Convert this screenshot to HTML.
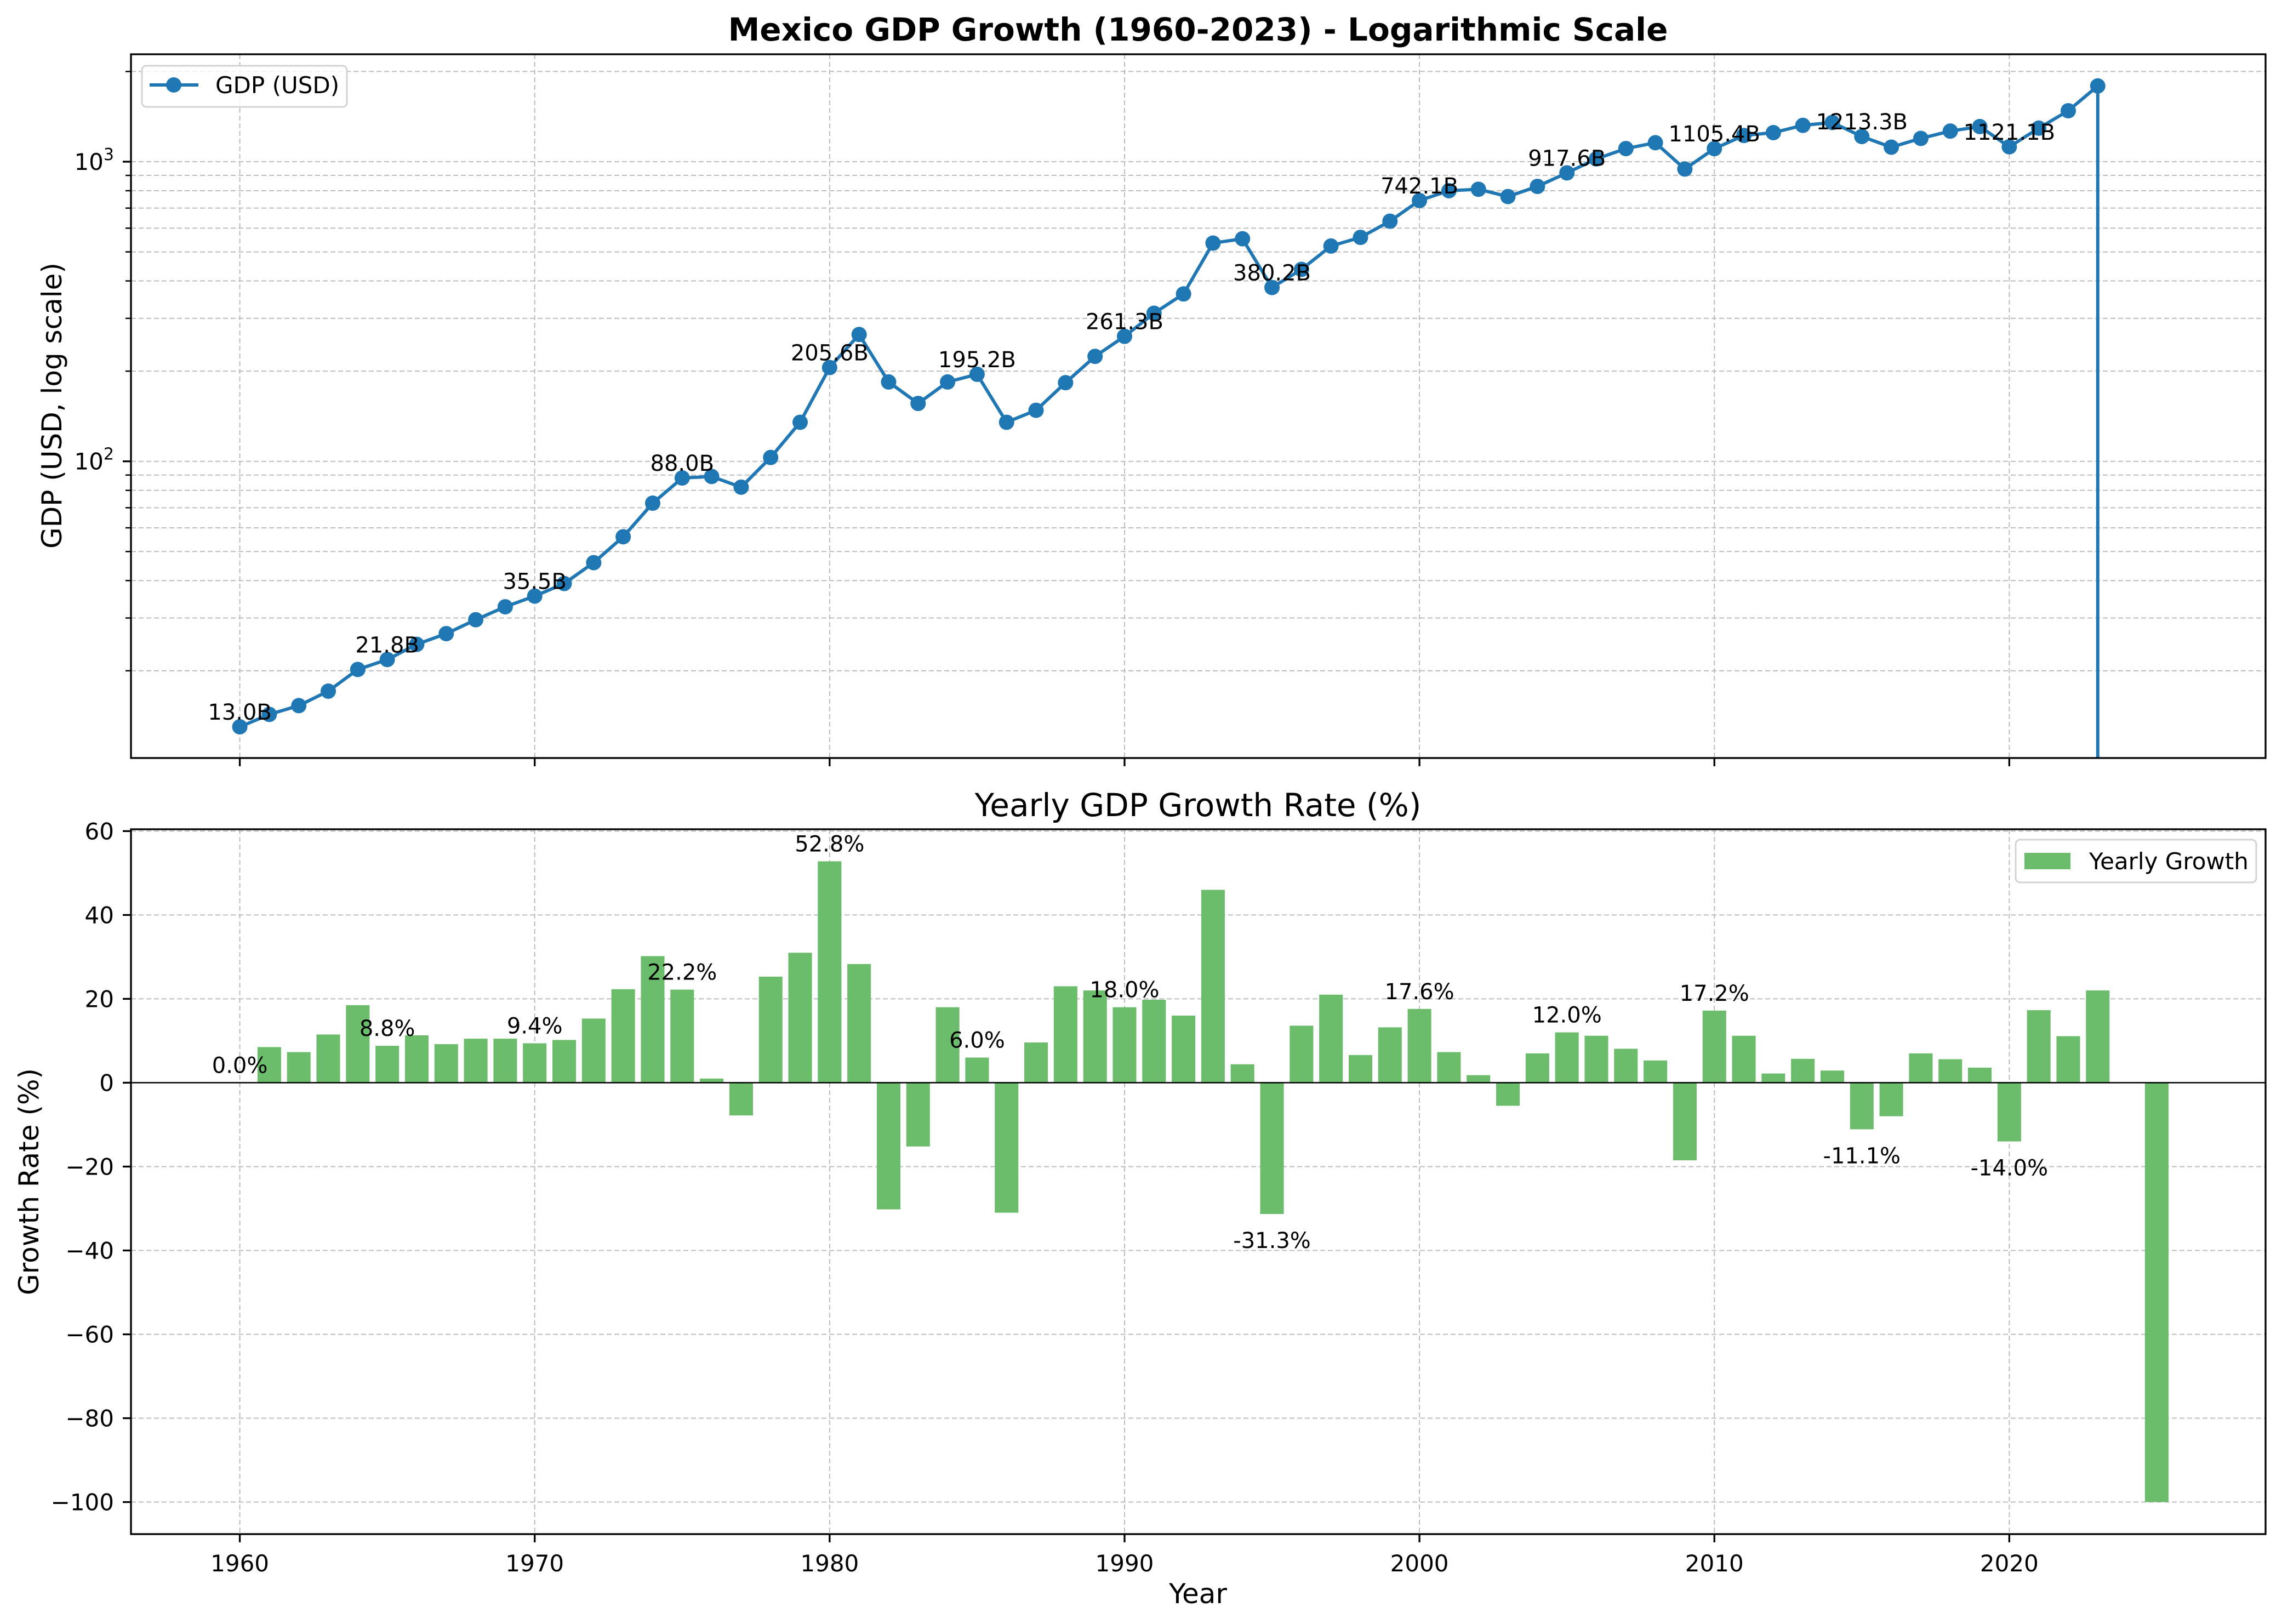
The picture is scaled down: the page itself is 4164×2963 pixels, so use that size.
<!DOCTYPE html>
<html><head><meta charset="utf-8"><style>
html,body{margin:0;padding:0;background:#fff}
svg{display:block}
text{font-family:"DejaVu Sans","Liberation Sans",sans-serif;fill:#000}
</style></head><body>
<svg id="chart" xmlns="http://www.w3.org/2000/svg" width="4164" height="2963" viewBox="0 0 4164 2963">
<rect x="0" y="0" width="4164" height="2963" fill="#fff"/>
<text x="2186" y="74" font-size="58" font-weight="bold" text-anchor="middle">Mexico GDP Growth (1960-2023) - Logarithmic Scale</text>
<text x="2186" y="1489" font-size="58" text-anchor="middle">Yearly GDP Growth Rate (%)</text>
<text transform="translate(112,740) rotate(-90)" font-size="50" text-anchor="middle">GDP (USD, log scale)</text>
<text transform="translate(70,2156) rotate(-90)" font-size="50" text-anchor="middle">Growth Rate (%)</text>
<text x="2186" y="2925" font-size="50" text-anchor="middle">Year</text>
<g id="topg"></g>
<g id="botg"></g>
</svg>
<script>
const gdpYears = [1960,1961,1962,1963,1964,1965,1966,1967,1968,1969,1970,1971,1972,1973,1974,1975,1976,1977,1978,1979,1980,1981,1982,1983,1984,1985,1986,1987,1988,1989,1990,1991,1992,1993,1994,1995,1996,1997,1998,1999,2000,2001,2002,2003,2004,2005,2006,2007,2008,2009,2010,2011,2012,2013,2014,2015,2016,2017,2018,2019,2020,2021,2022,2023];
const gdpValues = [13.0,14.3,15.3,17.1,20.2,21.8,24.5,26.6,29.6,32.7,35.5,39.1,45.9,56,72.5,88.0,89,82,103,135,205.6,265,184,156,184,195.2,135,148,183,224,261.3,312,362,535,553,380.2,437,523,559,633,742.1,800,809,765,827,917.6,1022,1106,1157,945,1105.4,1223,1250,1322,1352,1213.3,1118,1196,1265,1310,1121.1,1294,1479,1790];
const gdpLabelYears = [1960,1965,1970,1975,1980,1985,1990,1995,2000,2005,2010,2015,2020];
const growthYears = [1960,1961,1962,1963,1964,1965,1966,1967,1968,1969,1970,1971,1972,1973,1974,1975,1976,1977,1978,1979,1980,1981,1982,1983,1984,1985,1986,1987,1988,1989,1990,1991,1992,1993,1994,1995,1996,1997,1998,1999,2000,2001,2002,2003,2004,2005,2006,2007,2008,2009,2010,2011,2012,2013,2014,2015,2016,2017,2018,2019,2020,2021,2022,2023,2025];
const growthValues = [0,8.5,7.3,11.5,18.5,8.8,11.3,9.2,10.5,10.5,9.4,10.2,15.3,22.3,30.2,22.2,1.0,-7.8,25.3,31,52.8,28.3,-30.2,-15.2,18,6.0,-31,9.6,23,22,18.0,19.8,16,46,4.4,-31.3,13.6,21,6.6,13.2,17.6,7.3,1.8,-5.5,7,12.0,11.2,8.1,5.3,-18.5,17.2,11.2,2.2,5.7,2.9,-11.1,-8,7,5.6,3.6,-14.0,17.3,11.1,22,-100];
const xTickLabels = ["1960","1970","1980","1990","2000","2010","2020"];
const growthTicks = [60,40,20,0,-20,-40,-60,-80,-100];

const NS="http://www.w3.org/2000/svg";
function mk(parent,tag,attrs){const e=document.createElementNS(NS,tag);for(const k in attrs)e.setAttribute(k,attrs[k]);parent.appendChild(e);return e;}
const L=239,R=4134;
const xMin=1956.31,xMax=2028.69;
function X(yr){return L+(yr-xMin)/(xMax-xMin)*(R-L);}
const T1=99,B1=1383;
function Y1(v){return 295-546.7*Math.log10(v/1000);}
const T2=1513,B2=2799,gMin=-107.64,gMax=60.44;
function Y2(v){return T2+(gMax-v)/(gMax-gMin)*(B2-T2);}
const topG=document.getElementById('topg'),botG=document.getElementById('botg');
const grid={stroke:"#bdbdbd","stroke-width":"2","stroke-dasharray":"9,5"};

const minorVals=[20,30,40,50,60,70,80,90,100,200,300,400,500,600,700,800,900,1000,2000];
minorVals.forEach(v=>{const y=Y1(v);
 const g=mk(topG,'line',Object.assign({x1:L,x2:R,y1:y,y2:y},grid));
 
 
 const major=(v===100||v===1000);
 const t=mk(topG,'line',{x1:major?224:229,x2:L,y1:y,y2:y,stroke:"#000","stroke-width":major?3.3:2.5});
 
 
});
[[100,"2"],[1000,"3"]].forEach(([v,e])=>{const y=Y1(v);
 const t=mk(topG,'text',{x:208,y:y+15,"font-size":"42","text-anchor":"end"});
 
 
 t.innerHTML='10<tspan font-size="30" dy="-18">'+e+'</tspan>';
});
xTickLabels.forEach(s=>{const x=X(+s);
 [[topG,T1,B1],[botG,T2,B2]].forEach(([p,a,b])=>{
  const g=mk(p,'line',Object.assign({x1:x,x2:x,y1:a,y2:b},grid));
  
  
  const t=mk(p,'line',{x1:x,x2:x,y1:b,y2:b+15,stroke:"#000","stroke-width":3.3});
  
  
 });
 const lb=mk(botG,'text',{x:x,y:2867,"font-size":"42","text-anchor":"middle"});
 
 
 lb.textContent=s;
});
let d='';
gdpYears.forEach((yr,i)=>{d+=(i?'L':'M')+X(yr).toFixed(1)+','+Y1(gdpValues[i]).toFixed(1);});
const lastYr=gdpYears[gdpYears.length-1];
d+='L'+X(lastYr).toFixed(1)+','+B1;
const cp=mk(topG,'clipPath',{id:'c1'});mk(cp,'rect',{x:L,y:T1,width:R-L,height:B1-T1});
const ln=mk(topG,'path',{d:d,fill:"none",stroke:"#1f77b4","stroke-width":6,"stroke-linejoin":"round","clip-path":"url(#c1)"});


gdpYears.forEach((yr,i)=>{
 const c=mk(topG,'circle',{cx:X(yr),cy:Y1(gdpValues[i]),r:14,fill:"#1f77b4"});
 
 
});
gdpLabelYears.forEach(yr=>{const i=gdpYears.indexOf(yr);
 const t=mk(topG,'text',{x:X(yr),y:Y1(gdpValues[i])-13,"font-size":"40","text-anchor":"middle"});
 
 
 t.textContent=gdpValues[i].toFixed(1)+'B';
});
mk(topG,'rect',{x:L,y:T1,width:R-L,height:B1-T1,fill:"none",stroke:"#000","stroke-width":3.3});
const lg=mk(topG,'g',{});


mk(lg,'rect',{x:259,y:120,width:374,height:75,rx:8,fill:"#fff","fill-opacity":0.8,stroke:"#d3d3d3","stroke-width":3});
mk(lg,'line',{x1:273,x2:362,y1:155,y2:155,stroke:"#1f77b4","stroke-width":6});
mk(lg,'circle',{cx:317,cy:155,r:14,fill:"#1f77b4"});
const lt=mk(lg,'text',{x:393,y:170,"font-size":"42"});lt.textContent='GDP (USD)';

growthTicks.forEach(v=>{const y=Y2(v);
 const g=mk(botG,'line',Object.assign({x1:L,x2:R,y1:y,y2:y},grid));
 
 
 const t=mk(botG,'line',{x1:224,x2:L,y1:y,y2:y,stroke:"#000","stroke-width":3.3});
 
 
 const lb=mk(botG,'text',{x:208,y:y+15,"font-size":"42","text-anchor":"end"});
 
 
 lb.textContent=(v<0?'\u2212':'')+Math.abs(v);
});
const bw=0.8*(X(1)-X(0));
growthYears.forEach((yr,i)=>{const v=growthValues[i];
 const y0=Y2(0),y1=Y2(v);
 const r=mk(botG,'rect',{x:X(yr)-bw/2,y:Math.min(y0,y1),width:bw,height:Math.abs(y1-y0),fill:"#6bbd6b"});
 
 
});
growthYears.forEach((yr,i)=>{if((yr-1960)%5!==0||yr>2020)return;const v=growthValues[i];
 const t=mk(botG,'text',{x:X(yr),y:v>=0?Y2(v)-18:Y2(v)+62,"font-size":"40","text-anchor":"middle"});
 
 
 t.textContent=v.toFixed(1)+'%';
});
const zl=mk(botG,'line',{x1:L,x2:R,y1:Y2(0),y2:Y2(0),stroke:"#000","stroke-width":2.5});


mk(botG,'rect',{x:L,y:T2,width:R-L,height:B2-T2,fill:"none",stroke:"#000","stroke-width":3.3});
const lg2=mk(botG,'g',{});


mk(lg2,'rect',{x:3678,y:1532,width:439,height:78,rx:8,fill:"#fff","fill-opacity":0.8,stroke:"#d3d3d3","stroke-width":3});
mk(lg2,'rect',{x:3694,y:1556,width:84,height:30,fill:"#6bbd6b"});
const lt2=mk(lg2,'text',{x:3812,y:1586,"font-size":"42"});lt2.textContent='Yearly Growth';
</script>
</body></html>
